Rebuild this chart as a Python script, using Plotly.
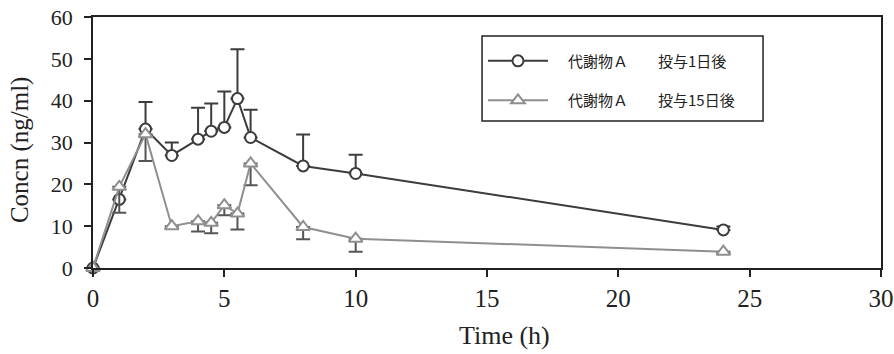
import plotly.graph_objects as go

# Sampling times (h)
time_h = [0, 1, 2, 3, 4, 4.5, 5, 5.5, 6, 8, 10, 24]

# Metabolite A, day 1 after dosing: mean and upper SD
day1_mean = [0, 16.4, 33.2, 26.9, 30.8, 32.7, 33.6, 40.5, 31.2, 24.4, 22.6, 9.1]
day1_sd = [0, 0, 6.5, 3.1, 7.5, 6.6, 8.6, 11.8, 6.6, 7.5, 4.5, 0.8]

# Metabolite A, day 15 after dosing: mean and lower SD
day15_mean = [0, 19.4, 32.0, 10.0, 11.2, 10.8, 15.0, 13.0, 25.0, 9.8, 7.0, 3.9]
day15_sd = [0, 6.2, 6.4, 0.6, 2.5, 2.5, 2.4, 3.8, 5.2, 2.9, 3.1, 0.5]

# Legend labels (ideographic spaces keep the two parts apart)
names = ["\u3000代謝物Ａ\u3000\u3000投与1日後", "\u3000代謝物Ａ\u3000\u3000投与15日後"]

dark = "#3c3c3c"
light = "#8f8f8f"
ink = "#222222"

fig = go.Figure()

fig.add_trace(go.Scatter(
    x=time_h, y=day1_mean, name=names[0], legendgroup="d1",
    mode="lines+markers",
    line=dict(color=dark, width=2),
    marker=dict(symbol="circle", size=11, color="white",
                line=dict(color=dark, width=2)),
    error_y=dict(type="data", symmetric=False, array=day1_sd,
                 arrayminus=[0] * len(day1_sd),
                 color=dark, thickness=2, width=7),
    cliponaxis=False,
))

fig.add_trace(go.Scatter(
    x=time_h, y=day15_mean, name=names[1], legendgroup="d15",
    mode="lines+markers",
    line=dict(color=light, width=2),
    marker=dict(symbol="triangle-up", size=12, color="white",
                line=dict(color=light, width=2)),
    error_y=dict(type="data", symmetric=False, array=[0] * len(day15_sd),
                 arrayminus=day15_sd,
                 color="#555555", thickness=2, width=7),
    cliponaxis=False,
))

serif = "Liberation Serif"

# Frame around the legend
fig.add_shape(type="rect", xref="paper", yref="paper",
              x0=0.4937, x1=0.8503, y0=0.5857, y1=0.9243,
              line=dict(color=ink, width=1.5), fillcolor="rgba(0,0,0,0)",
              layer="above")

# Axis titles
fig.add_annotation(text="Time (h)", xref="paper", yref="paper",
                   x=0.5216, y=-0.267, xanchor="center", yanchor="middle",
                   showarrow=False, font=dict(family=serif, size=26, color=ink))
fig.add_annotation(text="Concn (ng/ml)", xref="paper", yref="paper",
                   x=-0.0926, y=0.47, xanchor="center", yanchor="middle",
                   textangle=-90, showarrow=False,
                   font=dict(family=serif, size=25, color=ink))

fig.update_layout(
    width=894, height=354,
    margin=dict(l=93, r=13, t=17, b=86),
    paper_bgcolor="white", plot_bgcolor="white",
    showlegend=True,
    legend=dict(
        x=0.4949, y=0.890, xanchor="left", yanchor="top",
        borderwidth=0, bgcolor="rgba(0,0,0,0)",
        font=dict(family="Noto Sans CJK JP", size=15, color=ink),
        itemwidth=60, tracegroupgap=17,
    ),
    xaxis=dict(
        range=[0, 30], dtick=5, tick0=0, automargin=False,
        showline=True, linecolor=ink, linewidth=1.5, mirror=True,
        ticks="outside", ticklen=7, tickwidth=1.5, tickcolor=ink,
        showgrid=False, zeroline=False,
        tickfont=dict(family=serif, size=25, color=ink),
    ),
    yaxis=dict(
        range=[0, 60], dtick=10, tick0=0, automargin=False,
        showline=True, linecolor=ink, linewidth=1.5, mirror=True,
        ticks="outside", ticklen=7, tickwidth=1.5, tickcolor=ink,
        ticklabelstandoff=7,
        showgrid=False, zeroline=False,
        tickfont=dict(family=serif, size=22, color=ink),
    ),
)

fig.write_html("out.html")
